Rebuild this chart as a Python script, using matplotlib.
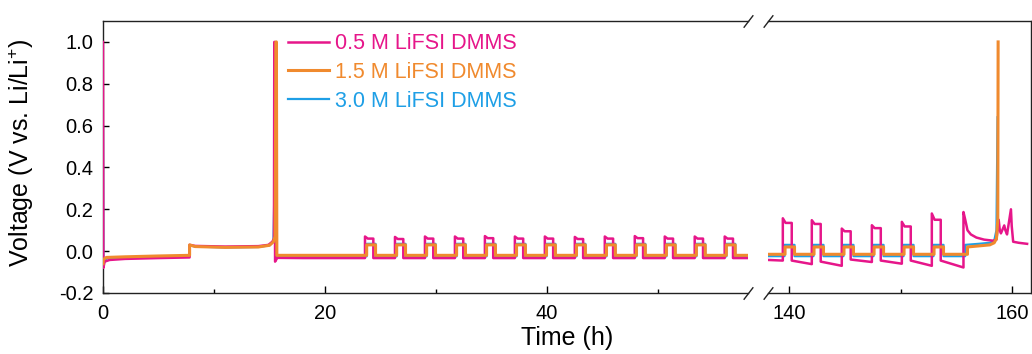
import matplotlib
matplotlib.use("Agg")
import matplotlib.pyplot as plt
from matplotlib.ticker import MultipleLocator, FormatStrFormatter

plt.rcParams['font.family'] = ['Liberation Sans', 'DejaVu Sans']
plt.rcParams['mathtext.fontset'] = 'custom'
plt.rcParams['mathtext.rm'] = 'Liberation Sans'
plt.rcParams['axes.unicode_minus'] = False

PINK = '#e6168a'
ORANGE = '#f08a2e'
BLUE = '#1e9fe6'

labels = ['0.5 M LiFSI DMMS', '1.5 M LiFSI DMMS', '3.0 M LiFSI DMMS']

# ---- first 23.6 h (formation / first strip), vertices
pink_head_t = [0.0, 0.03, 0.15, 0.6, 2.0, 5.0, 7.8, 7.8, 8.3, 11.0, 14.0, 14.9, 15.25, 15.4, 15.43, 15.47, 15.5, 15.7, 18.0, 23.6]
pink_head_v = [1.0, -0.08, -0.05, -0.042, -0.037, -0.033, -0.03, 0.03, 0.025, 0.022, 0.024, 0.03, 0.045, 0.06, 1.0, 1.0, -0.05, -0.032, -0.033, -0.033]
orange_head_t = [0.0, 0.03, 0.3, 2.0, 5.0, 7.8, 7.8, 8.3, 11.0, 14.0, 15.0, 15.35, 15.5, 15.58, 15.62, 15.66, 17.0, 23.6]
orange_head_v = [-0.06, -0.04, -0.03, -0.027, -0.023, -0.02, 0.03, 0.022, 0.018, 0.02, 0.028, 0.045, 0.07, 1.0, 1.0, -0.02, -0.02, -0.02]
blue_head_t = [0.0, 0.03, 0.3, 2.0, 5.0, 7.8, 7.8, 8.3, 11.0, 14.0, 15.0, 15.35, 15.5, 15.53, 15.58, 17.0, 23.6]
blue_head_v = [0.6, -0.06, -0.035, -0.03, -0.026, -0.023, 0.028, 0.022, 0.018, 0.02, 0.028, 0.045, 0.45, -0.04, -0.025, -0.025, -0.025]

# ---- plating/stripping pulses, left part
cyc_left = [23.6, 26.3, 29.0, 31.7, 34.4, 37.1, 39.8, 42.5, 45.2, 47.9, 50.6, 53.3, 56.0]
pink_left_peak = [0.07, 0.068, 0.07, 0.07, 0.072, 0.07, 0.07, 0.068, 0.07, 0.072, 0.07, 0.07, 0.07]
pink_left_plat = [0.06, 0.058, 0.06, 0.06, 0.062, 0.06, 0.06, 0.058, 0.06, 0.062, 0.06, 0.06, 0.06]
pink_left_base = [-0.033] * 13
orange_left_top = [0.03] * 13
orange_left_base = [-0.02] * 13
blue_left_top = [0.035] * 13
blue_left_base = [-0.025] * 13
left_end = 58.0

# ---- right part (after the break)
cyc_right = [139.43, 142.03, 144.72, 147.42, 150.11, 152.8]
pink_right_peak = [0.157, 0.148, 0.108, 0.124, 0.14, 0.18]
pink_right_plat = [0.135, 0.13, 0.095, 0.11, 0.118, 0.15]
pink_right_before = [-0.045, -0.062, -0.07, -0.052, -0.06, -0.07]
pink_right_after = [-0.045, -0.05, -0.04, -0.045, -0.045, -0.045]
orange_right_top = [0.02] * 6
orange_right_base = [-0.015] * 6
blue_right_top = [0.03] * 6
blue_right_base = [-0.024] * 6
right_start = 138.1

pink_tail_t = [155.64, 155.64, 155.8, 156.0, 156.3, 156.8, 157.5, 158.3, 158.6, 158.8, 158.9, 159.0, 159.3, 159.4, 159.55, 159.9, 159.97, 160.1, 160.6, 161.35]
pink_tail_v = [-0.078, 0.187, 0.15, 0.1, 0.08, 0.065, 0.055, 0.05, 0.055, 0.15, 0.1, 0.085, 0.123, 0.1, 0.08, 0.2, 0.12, 0.045, 0.04, 0.035]
orange_tail_t = [156.0, 156.0, 157.0, 158.0, 158.4, 158.6, 158.72, 158.75]
orange_tail_v = [-0.015, 0.02, 0.025, 0.03, 0.04, 0.06, 0.15, 1.0]
blue_tail_t = [155.8, 155.8, 157.0, 158.0, 158.4, 158.6, 158.7]
blue_tail_v = [-0.024, 0.03, 0.035, 0.04, 0.05, 0.1, 0.64]


def pulses(starts, peaks, plats, before, after, lead, width):
    # square pulses: baseline -> peak -> plateau -> baseline
    t, v = [], []
    for s, pk, pl, b, a in zip(starts, peaks, plats, before, after):
        s = s + lead
        t += [s, s, s + 0.25, s + width, s + width]
        v += [b, pk, pl, pl, a]
    return t, v


# build the traces
pl_t, pl_v = pulses(cyc_left, pink_left_peak, pink_left_plat, pink_left_base, pink_left_base, 0.0, 0.75)
ol_t, ol_v = pulses(cyc_left, orange_left_top, orange_left_top, orange_left_base, orange_left_base, 0.15, 0.8)
bl_t, bl_v = pulses(cyc_left, blue_left_top, blue_left_top, blue_left_base, blue_left_base, 0.15, 0.8)

pink_L = (pink_head_t + pl_t + [left_end], pink_head_v + pl_v + [pink_left_base[-1]])
orange_L = (orange_head_t + ol_t + [left_end], orange_head_v + ol_v + [orange_left_base[-1]])
blue_L = (blue_head_t + bl_t + [left_end], blue_head_v + bl_v + [blue_left_base[-1]])

pr_t, pr_v = pulses(cyc_right, pink_right_peak, pink_right_plat, pink_right_before, pink_right_after, 0.0, 0.8)
or_t, or_v = pulses(cyc_right, orange_right_top, orange_right_top, orange_right_base, orange_right_base, 0.2, 0.85)
br_t, br_v = pulses(cyc_right, blue_right_top, blue_right_top, blue_right_base, blue_right_base, 0.15, 0.9)

pink_R = ([right_start] + pr_t + pink_tail_t, [-0.042] + pr_v + pink_tail_v)
orange_R = ([right_start] + or_t + orange_tail_t, [orange_right_base[0]] + or_v + orange_tail_v)
blue_R = ([right_start] + br_t + blue_tail_t, [blue_right_base[0]] + br_v + blue_tail_v)

W, H = 1032, 354
fig = plt.figure(figsize=(W / 100, H / 100), dpi=100)
axL = fig.add_axes([103 / W, 61 / H, 645 / W, 272 / H])
axR = fig.add_axes([768 / W, 61 / H, 263 / W, 272 / H])

for ax, (p, o, b) in [(axL, (pink_L, orange_L, blue_L)), (axR, (pink_R, orange_R, blue_R))]:
    ax.plot(*b, color=BLUE, lw=1.6, label=labels[2], zorder=2)
    ax.plot(*p, color=PINK, lw=1.8, label=labels[0], zorder=3)
    ax.plot(*o, color=ORANGE, lw=2.2, label=labels[1], zorder=4)
    ax.set_ylim(-0.2, 1.1)
    for s in ax.spines.values():
        s.set_linewidth(1.0)
        s.set_color('#222222')
    ax.tick_params(axis='x', which='major', direction='in', length=5, width=1, labelsize=14.5, pad=8)
    ax.tick_params(axis='x', which='minor', direction='in', length=3, width=1)
    ax.xaxis.set_minor_locator(MultipleLocator(10))
    ax.xaxis.set_major_locator(MultipleLocator(20))

axL.set_xlim(0, 58.1)
axR.set_xlim(138.1, 161.7)
axL.spines['right'].set_visible(False)
axR.spines['left'].set_visible(False)
axR.tick_params(axis='y', left=False, labelleft=False)
axL.yaxis.set_major_locator(MultipleLocator(0.2))
axL.yaxis.set_major_formatter(FormatStrFormatter('%.1f'))
axL.tick_params(axis='y', direction='in', length=4, width=1, labelsize=14.5, pad=7)

# break marks
mk = dict(marker=[(-1, -1.3), (1, 1.3)], markersize=9, linestyle='none',
          color='#222222', mec='#222222', mew=1, clip_on=False)
axL.plot([1, 1], [0, 1], transform=axL.transAxes, **mk)
axR.plot([0, 0], [0, 1], transform=axR.transAxes, **mk)

h, l = axL.get_legend_handles_labels()
order = [1, 2, 0]
leg = axL.legend([h[i] for i in order], [l[i] for i in order], loc='upper left',
                 bbox_to_anchor=(0.287, 0.955), frameon=False, fontsize=15.5,
                 handlelength=1.9, handletextpad=0.3, labelspacing=0.36,
                 borderpad=0, borderaxespad=0, labelcolor='linecolor')

fig.text(21 / W, 1 - 153 / H, 'Voltage (V vs. Li/Li$^{+}$)', rotation=90,
         ha='center', va='center', fontsize=18)
fig.text(567 / W, 1 - 338 / H, 'Time (h)', ha='center', va='center', fontsize=18)

fig.savefig('out.png', dpi=100)
